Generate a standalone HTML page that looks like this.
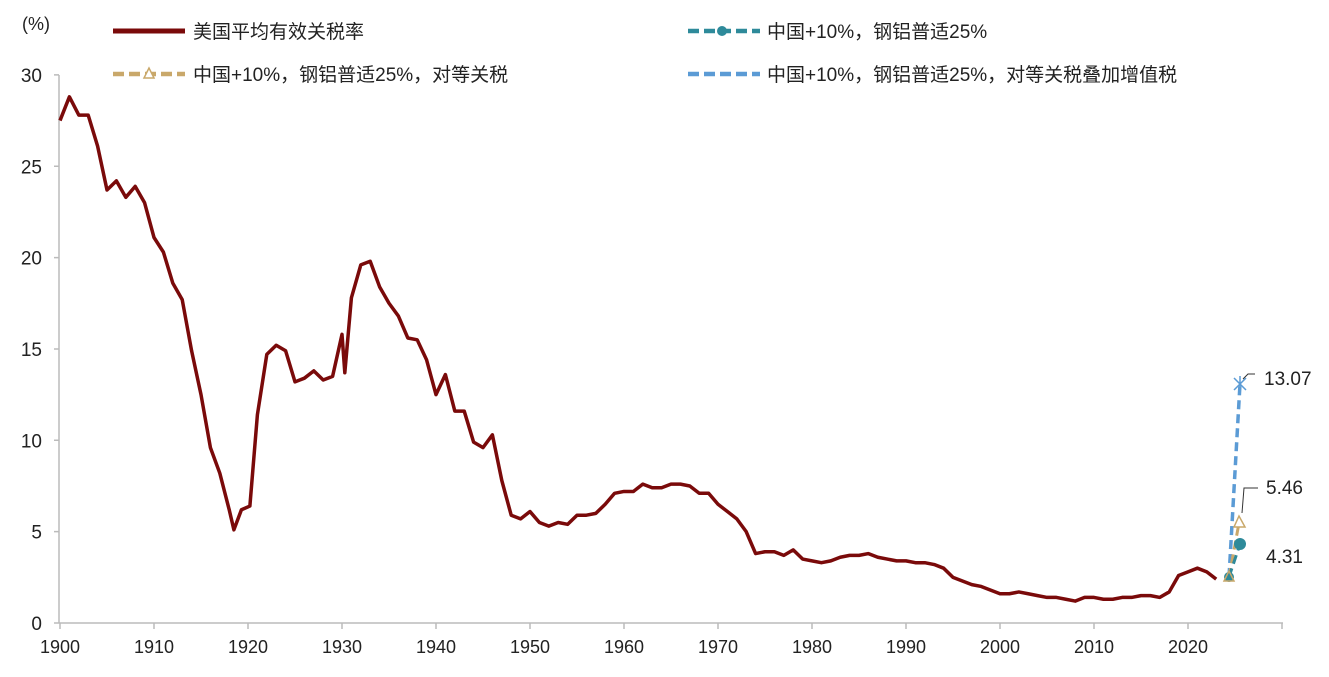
<!DOCTYPE html>
<html><head><meta charset="utf-8"><style>
body{margin:0;background:#fff;}
svg text{font-family:"Liberation Sans","Noto Sans CJK SC",sans-serif;fill:#222;}
</style></head><body>
<svg width="1329" height="672" viewBox="0 0 1329 672" xmlns="http://www.w3.org/2000/svg">
<g stroke="#bbb" stroke-width="1.5" fill="none">
<line x1="59" y1="75" x2="59" y2="623"/>
<line x1="59" y1="623" x2="1283" y2="623"/>
<path d="M54 623H59M54 531.65H59M54 440.3H59M54 348.95H59M54 257.6H59M54 166.25H59M54 74.9H59"/>
<path d="M60 623V629M154 623V629M248 623V629M342 623V629M436 623V629M530 623V629M624 623V629M718 623V629M812 623V629M906 623V629M1000 623V629M1094 623V629M1188 623V629M1282 623V629"/>
</g>
<g font-size="19" text-anchor="end">
<text x="42" y="630">0</text><text x="42" y="538.65">5</text><text x="42" y="447.3">10</text><text x="42" y="355.95">15</text><text x="42" y="264.6">20</text><text x="42" y="173.25">25</text><text x="42" y="81.9">30</text>
</g>
<g font-size="18" text-anchor="middle">
<text x="60" y="653">1900</text><text x="154" y="653">1910</text><text x="248" y="653">1920</text><text x="342" y="653">1930</text><text x="436" y="653">1940</text><text x="530" y="653">1950</text><text x="624" y="653">1960</text><text x="718" y="653">1970</text><text x="812" y="653">1980</text><text x="906" y="653">1990</text><text x="1000" y="653">2000</text><text x="1094" y="653">2010</text><text x="1188" y="653">2020</text>
</g>
<text x="22" y="30" font-size="18">(%)</text>
<g font-size="19">
<line x1="113" y1="31" x2="185" y2="31" stroke="#7a0a0a" stroke-width="5"/>
<text x="193" y="38">美国平均有效关税率</text>
<line x1="688" y1="31" x2="760" y2="31" stroke="#2e8a9a" stroke-width="4.5" stroke-dasharray="11,5"/>
<circle cx="722" cy="31" r="5" fill="#2e8a9a"/>
<text x="767" y="38">中国+10%，钢铝普适25%</text>
<line x1="113" y1="74" x2="185" y2="74" stroke="#c9a86a" stroke-width="4.5" stroke-dasharray="11,5"/>
<path d="M149 68 L144 78 L154 78Z" fill="#fff" stroke="#c9a86a" stroke-width="1.5"/>
<text x="193" y="81">中国+10%，钢铝普适25%，对等关税</text>
<line x1="688" y1="74" x2="760" y2="74" stroke="#5b9bd5" stroke-width="4.5" stroke-dasharray="11,5"/>
<text x="767" y="81">中国+10%，钢铝普适25%，对等关税叠加增值税</text>
</g>
<polyline transform="translate(60,623) scale(9.4,-18.27)" vector-effect="non-scaling-stroke" fill="none" stroke="#7a0a0a" stroke-width="3.5" stroke-linejoin="round" points="0,27.5 1,28.8 2,27.8 3,27.8 4,26.1 5,23.7 6,24.2 7,23.3 8,23.9 9,23.0 10,21.1 11,20.3 12,18.6 13,17.7 14,14.9 15,12.5 16,9.6 17,8.2 18,6.2 18.5,5.1 19.3,6.2 20.2,6.4 21,11.4 22,14.7 23,15.2 24,14.9 25,13.2 26,13.4 27,13.8 28,13.3 29,13.5 30,15.8 30.3,13.7 31,17.8 32,19.6 33,19.8 34,18.4 35,17.5 36,16.8 37,15.6 38,15.5 39,14.4 40,12.5 41,13.6 42,11.6 43,11.6 44,9.9 45,9.6 46,10.3 47,7.8 48,5.9 49,5.7 50,6.1 51,5.5 52,5.3 53,5.5 54,5.4 55,5.9 56,5.9 57,6.0 58,6.5 59,7.1 60,7.2 61,7.2 62,7.6 63,7.4 64,7.4 65,7.6 66,7.6 67,7.5 68,7.1 69,7.1 70,6.5 71,6.1 72,5.7 73,5.0 74,3.8 75,3.9 76,3.9 77,3.7 78,4.0 79,3.5 80,3.4 81,3.3 82,3.4 83,3.6 84,3.7 85,3.7 86,3.8 87,3.6 88,3.5 89,3.4 90,3.4 91,3.3 92,3.3 93,3.2 94,3.0 95,2.5 96,2.3 97,2.1 98,2.0 99,1.8 100,1.6 101,1.6 102,1.7 103,1.6 104,1.5 105,1.4 106,1.4 107,1.3 108,1.2 109,1.4 110,1.4 111,1.3 112,1.3 113,1.4 114,1.4 115,1.5 116,1.5 117,1.4 118,1.7 119,2.6 120,2.8 121,3.0 122,2.8 123,2.4"/>
<line x1="1229" y1="577" x2="1240" y2="384" stroke="#5b9bd5" stroke-width="3.5" stroke-dasharray="9,5"/>
<line x1="1229" y1="577" x2="1239" y2="523" stroke="#c9a86a" stroke-width="3" stroke-dasharray="9,5"/>
<line x1="1229" y1="577" x2="1240" y2="544" stroke="#2e8a9a" stroke-width="3" stroke-dasharray="9,5"/>
<circle cx="1240" cy="544" r="6" fill="#2e8a9a"/>
<path d="M1239 516 L1234 527 L1245 527Z" fill="#fff" stroke="#c9a86a" stroke-width="1.5"/>
<path d="M1234 378 L1246 390 M1246 378 L1234 390 M1240 376 L1240 392" stroke="#5b9bd5" stroke-width="1.5"/>
<circle cx="1229" cy="577" r="5" fill="#2e8a9a"/>
<path d="M1229 571 L1224 581 L1234 581Z" fill="none" stroke="#c9a86a" stroke-width="1.5"/>
<path d="M1243 379 L1248 374 L1255 374" stroke="#333" fill="none" stroke-width="1"/>
<text x="1264" y="385" font-size="19">13.07</text>
<path d="M1242 513 L1244 488 L1258 488" stroke="#333" fill="none" stroke-width="1"/>
<text x="1266" y="494" font-size="19">5.46</text>
<text x="1266" y="563" font-size="19">4.31</text>
</svg>
</body></html>
